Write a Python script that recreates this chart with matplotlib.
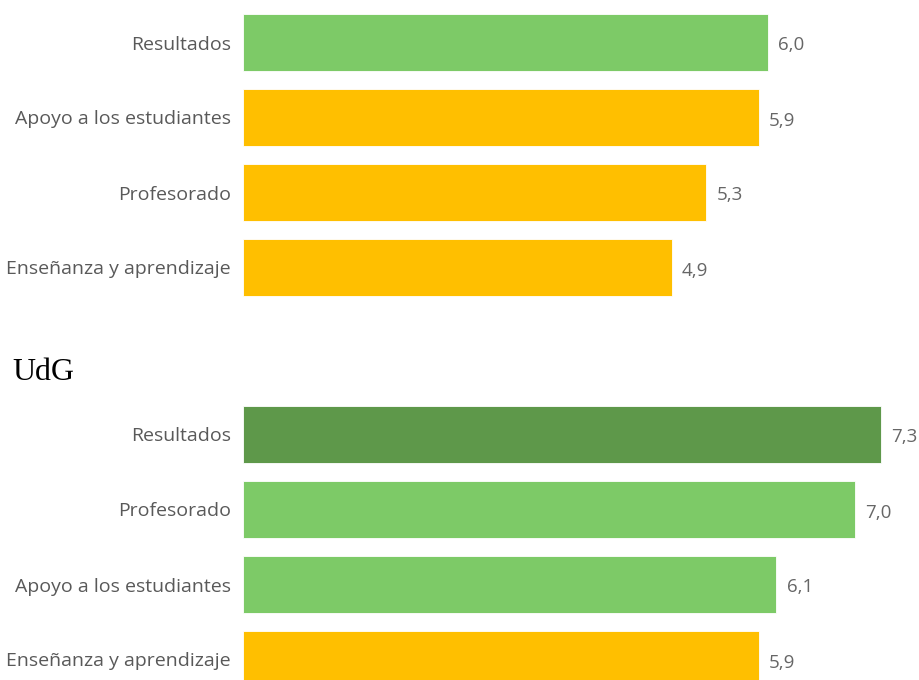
import matplotlib.pyplot as plt

W, H = 919, 680

top_labels = ["Resultados", "Apoyo a los estudiantes", "Profesorado", "Enseñanza y aprendizaje"]
top_values = [6.0, 5.9, 5.3, 4.9]
top_colors = ["#7DCA67", "#FFBF00", "#FFBF00", "#FFBF00"]

udg_title = "UdG"
udg_labels = ["Resultados", "Profesorado", "Apoyo a los estudiantes", "Enseñanza y aprendizaje"]
udg_values = [7.3, 7.0, 6.1, 5.9]
udg_colors = ["#5E984A", "#7DCA67", "#7DCA67", "#FFBF00"]

plt.rcParams['font.family'] = ['Open Sans', 'DejaVu Sans']

fig = plt.figure(figsize=(W / 100, H / 100), dpi=100)


def px_axes(left, top, width, height):
    return fig.add_axes([left / W, 1 - (top + height) / H, width / W, height / H])


def draw_panel(ax, labels, values, colors):
    y = list(range(len(labels)))
    ax.barh(y, values, height=0.76, color=colors, edgecolor="#ffffff", linewidth=0.6)
    for yi, v in zip(y, values):
        ax.text(v + 0.115, yi + 0.04, f"{v:.1f}".replace(".", ","), va="center", ha="left",
                fontsize=13.5, color="#666666")
    ax.set_xlim(0, 7.73)
    ax.set_ylim(len(labels) - 0.5, -0.5)
    ax.set_yticks(y)
    ax.set_yticklabels(labels, fontsize=14, color="#595959")
    ax.tick_params(axis="y", length=0, pad=8.6)
    ax.set_xticks([])
    for s in ax.spines.values():
        s.set_visible(False)
    ax.patch.set_alpha(0)


ax1 = px_axes(243, 5, 676, 300)
draw_panel(ax1, top_labels, top_values, top_colors)

ax2 = px_axes(243, 397, 676, 300)
draw_panel(ax2, udg_labels, udg_values, udg_colors)

fig.text(12 / W, 1 - 372 / H, udg_title, family="Liberation Serif", fontsize=23,
         ha="left", va="center", color="#000000")

fig.savefig("out.png", dpi=100)
